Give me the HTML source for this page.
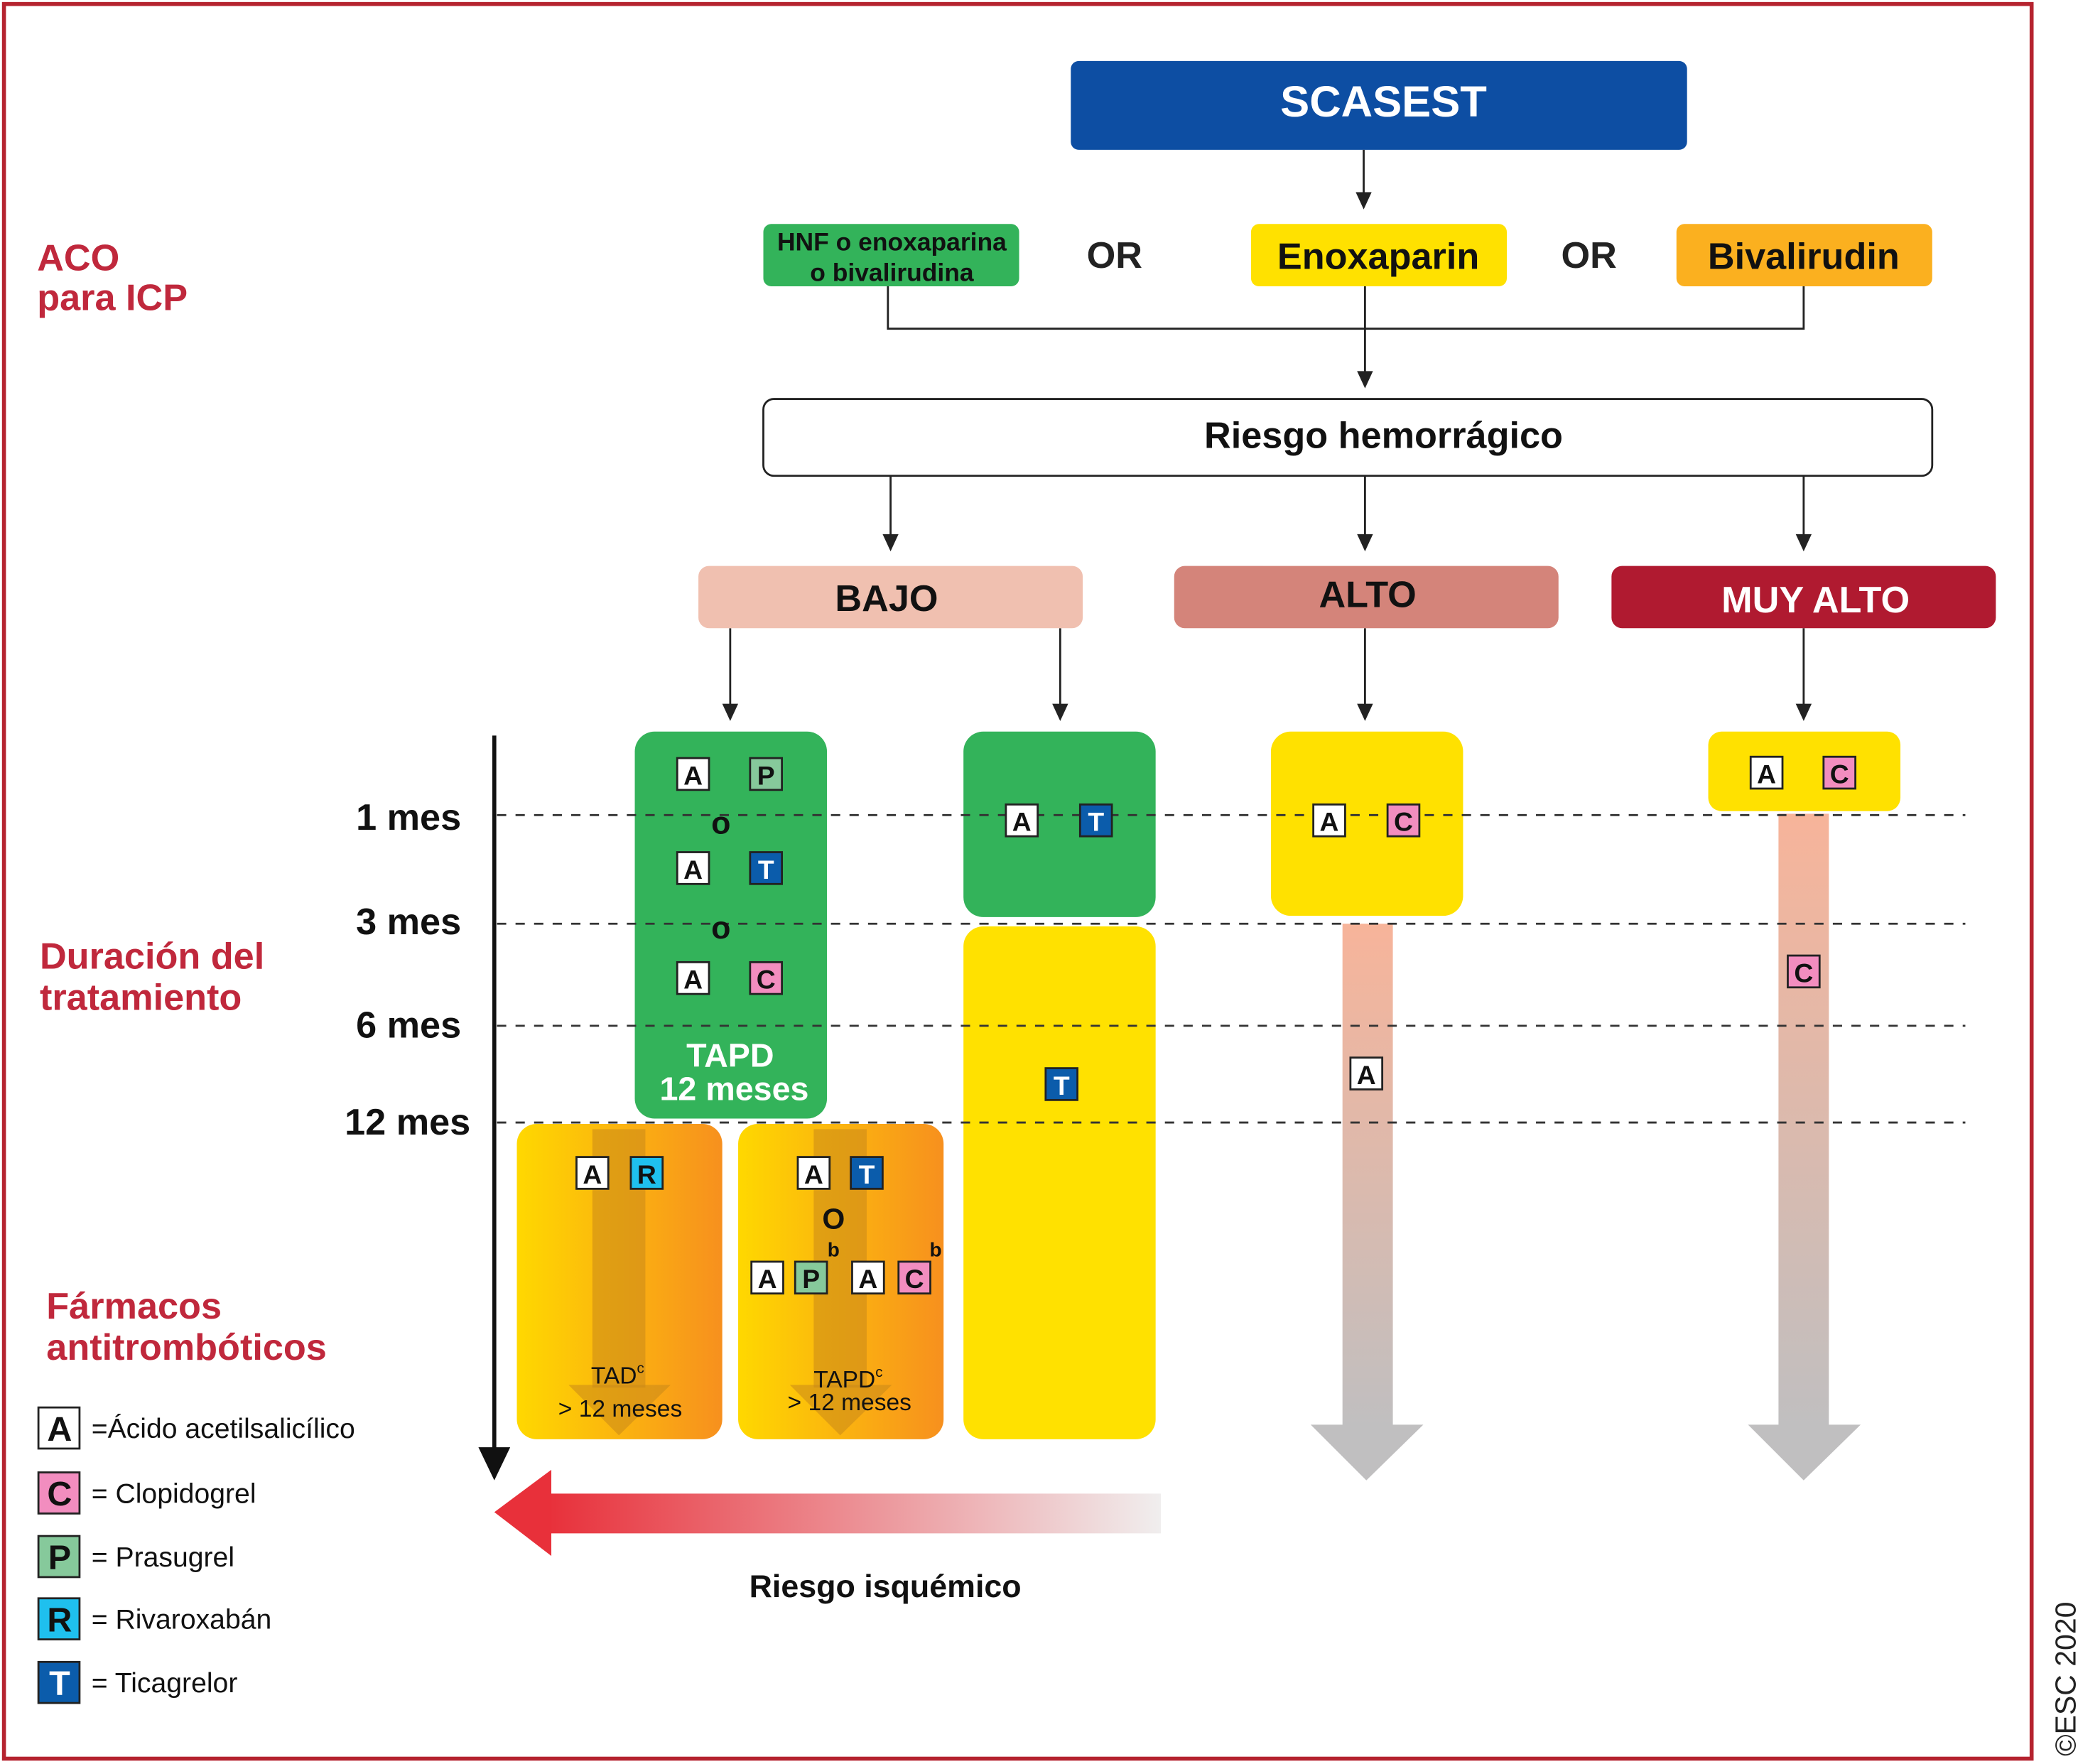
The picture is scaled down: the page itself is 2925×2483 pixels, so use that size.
<!DOCTYPE html>
<html><head><meta charset="utf-8"><style>html,body{margin:0;padding:0;background:#fff}svg{display:block}text{font-family:"Liberation Sans",sans-serif}</style></head><body>
<svg width="2925" height="2483" viewBox="0 0 1568 1331" xmlns="http://www.w3.org/2000/svg">
<defs>
<linearGradient id="og" x1="0" x2="1" y1="0" y2="0"><stop offset="0" stop-color="#ffd800"/><stop offset="1" stop-color="#f7901e"/></linearGradient>
<linearGradient id="gv" x1="0" x2="0" y1="0" y2="1"><stop offset="0" stop-color="#f7b49a"/><stop offset="1" stop-color="#c0bfc0"/></linearGradient>
<linearGradient id="rh" x1="0" x2="1" y1="0" y2="0"><stop offset="0" stop-color="#e8303a"/><stop offset="1" stop-color="#f0eeee"/></linearGradient>
</defs>
<rect x="3" y="3" width="1530" height="1324" fill="none" stroke="#b5232f" stroke-width="3"/>
<text transform="translate(1566,1325) rotate(-90)" font-size="22" fill="#222">©ESC 2020</text>

<rect x="808" y="46" width="465" height="67" rx="6" fill="#0d4ea3"/>
<text x="1044" y="88" font-size="33" font-weight="bold" fill="#fff" text-anchor="middle">SCASEST</text>
<g stroke="#222" stroke-width="1.5" fill="none">
<line x1="1029" y1="113" x2="1029" y2="150"/>
<polyline points="670,216 670,248 1361,248 1361,216"/>
<line x1="1030" y1="216" x2="1030" y2="285"/>
<line x1="672" y1="359" x2="672" y2="408"/>
<line x1="1030" y1="359" x2="1030" y2="408"/>
<line x1="1361" y1="359" x2="1361" y2="408"/>
<line x1="551" y1="474" x2="551" y2="536"/>
<line x1="800" y1="474" x2="800" y2="536"/>
<line x1="1030" y1="474" x2="1030" y2="536"/>
<line x1="1361" y1="474" x2="1361" y2="536"/>
</g>
<g fill="#222">
<polygon points="1023,145 1035,145 1029,158"/>
<polygon points="1024,280 1036,280 1030,293"/>
<polygon points="666,403 678,403 672,416"/>
<polygon points="1024,403 1036,403 1030,416"/>
<polygon points="1355,403 1367,403 1361,416"/>
<polygon points="545,531 557,531 551,544"/>
<polygon points="794,531 806,531 800,544"/>
<polygon points="1024,531 1036,531 1030,544"/>
<polygon points="1355,531 1367,531 1361,544"/>
</g>
<rect x="576" y="169" width="193" height="47" rx="6" fill="#33b35a"/>
<text x="673" y="189" font-size="19" font-weight="bold" text-anchor="middle" fill="#111">HNF o enoxaparina</text>
<text x="673" y="212" font-size="19" font-weight="bold" text-anchor="middle" fill="#111">o bivalirudina</text>
<text x="841" y="202" font-size="28" font-weight="bold" text-anchor="middle" fill="#222">OR</text>
<text x="1199" y="202" font-size="28" font-weight="bold" text-anchor="middle" fill="#222">OR</text>
<rect x="944" y="169" width="193" height="47" rx="6" fill="#ffe100"/>
<text x="1040" y="203" font-size="28" font-weight="bold" text-anchor="middle" fill="#111">Enoxaparin</text>
<rect x="1265" y="169" width="193" height="47" rx="6" fill="#fbb01f"/>
<text x="1361" y="203" font-size="28" font-weight="bold" text-anchor="middle" fill="#111">Bivalirudin</text>

<rect x="576" y="301" width="882" height="58" rx="8" fill="#fff" stroke="#222" stroke-width="1.5"/>
<text x="1044" y="338" font-size="28" font-weight="bold" text-anchor="middle" fill="#111">Riesgo hemorrágico</text>

<rect x="527" y="427" width="290" height="47" rx="8" fill="#f0c0b0"/>
<text x="669" y="461" font-size="28" font-weight="bold" text-anchor="middle" fill="#111">BAJO</text>
<rect x="886" y="427" width="290" height="47" rx="8" fill="#d4847a"/>
<text x="1032" y="458" font-size="28" font-weight="bold" text-anchor="middle" fill="#111">ALTO</text>
<rect x="1216" y="427" width="290" height="47" rx="8" fill="#b01a30"/>
<text x="1370" y="462" font-size="28" font-weight="bold" text-anchor="middle" fill="#fff">MUY ALTO</text>

<text x="28" y="204" font-size="28" font-weight="bold" fill="#c0283c">ACO</text>
<text x="28" y="234" font-size="28" font-weight="bold" fill="#c0283c">para ICP</text>
<text x="30" y="731" font-size="28" font-weight="bold" fill="#c0283c">Duración del</text>
<text x="30" y="762" font-size="28" font-weight="bold" fill="#c0283c">tratamiento</text>
<text x="35" y="995" font-size="28" font-weight="bold" fill="#c0283c">Fármacos</text>
<text x="35" y="1026" font-size="28" font-weight="bold" fill="#c0283c">antitrombóticos</text>

<rect x="479" y="552" width="145" height="292" rx="15" fill="#33b35a"/>
<rect x="727" y="552" width="145" height="140" rx="15" fill="#33b35a"/>
<rect x="727" y="699" width="145" height="387" rx="15" fill="#ffe100"/>
<rect x="959" y="552" width="145" height="139" rx="15" fill="#ffe100"/>
<rect x="1289" y="552" width="145" height="60" rx="10" fill="#ffe100"/>
<rect x="1013" y="697" width="38" height="380" fill="url(#gv)"/>
<polygon points="989,1075 1074,1075 1031,1117" fill="#c0bfc0"/>
<rect x="1342" y="614" width="38" height="463" fill="url(#gv)"/>
<polygon points="1319,1075 1404,1075 1361,1117" fill="#c0bfc0"/>

<rect x="390" y="848" width="155" height="238" rx="15" fill="url(#og)"/>
<rect x="447" y="852" width="40" height="195" fill="#c8881a" opacity="0.55"/>
<polygon points="429,1045 506,1045 467,1083" fill="#c8881a" opacity="0.55"/>
<rect x="557" y="848" width="155" height="238" rx="15" fill="url(#og)"/>
<rect x="614" y="852" width="40" height="195" fill="#c8881a" opacity="0.55"/>
<polygon points="596,1045 673,1045 634,1083" fill="#c8881a" opacity="0.55"/>

<g stroke="#333" stroke-width="1.5" stroke-dasharray="7,7">
<line x1="375" y1="615" x2="1483" y2="615"/>
<line x1="375" y1="697" x2="1483" y2="697"/>
<line x1="375" y1="774" x2="1483" y2="774"/>
<line x1="375" y1="847" x2="1483" y2="847"/>
</g>
<text x="348" y="626" font-size="28" font-weight="bold" text-anchor="end" fill="#111">1 mes</text>
<text x="348" y="705" font-size="28" font-weight="bold" text-anchor="end" fill="#111">3 mes</text>
<text x="348" y="783" font-size="28" font-weight="bold" text-anchor="end" fill="#111">6 mes</text>
<text x="355" y="856" font-size="28" font-weight="bold" text-anchor="end" fill="#111">12 mes</text>
<line x1="373" y1="555" x2="373" y2="1100" stroke="#111" stroke-width="3"/>
<polygon points="361,1092 385,1092 373,1117" fill="#111"/>

<g font-weight="bold" font-size="20" text-anchor="middle" stroke-width="1.5">
<g stroke="#222">
<rect x="511" y="572" width="24" height="24" fill="#fff"/><rect x="566" y="572" width="24" height="24" fill="#86c99b"/>
<rect x="511" y="643" width="24" height="24" fill="#fff"/><rect x="566" y="643" width="24" height="24" fill="#0b5cab"/>
<rect x="511" y="726" width="24" height="24" fill="#fff"/><rect x="566" y="726" width="24" height="24" fill="#f28dbf"/>
<rect x="759" y="607" width="24" height="24" fill="#fff"/><rect x="815" y="607" width="24" height="24" fill="#0b5cab"/>
<rect x="789" y="806" width="24" height="24" fill="#0b5cab"/>
<rect x="991" y="607" width="24" height="24" fill="#fff"/><rect x="1047" y="607" width="24" height="24" fill="#f28dbf"/>
<rect x="1019" y="798" width="24" height="24" fill="#fff"/>
<rect x="1321" y="571" width="24" height="24" fill="#fff"/><rect x="1376" y="571" width="24" height="24" fill="#f28dbf"/>
<rect x="1349" y="721" width="24" height="24" fill="#f28dbf"/>
<rect x="435" y="873" width="24" height="24" fill="#fff"/><rect x="476" y="873" width="24" height="24" fill="#1fc0ee"/>
<rect x="602" y="873" width="24" height="24" fill="#fff"/><rect x="642" y="873" width="24" height="24" fill="#0b5cab"/>
<rect x="567" y="952" width="24" height="24" fill="#fff"/><rect x="600" y="952" width="24" height="24" fill="#86c99b"/>
<rect x="643" y="952" width="24" height="24" fill="#fff"/><rect x="678" y="952" width="24" height="24" fill="#f28dbf"/>
</g>
<g stroke="none" fill="#111">
<text x="523" y="592">A</text><text x="578" y="592">P</text>
<text x="523" y="663">A</text><text x="578" y="663" fill="#fff">T</text>
<text x="523" y="746">A</text><text x="578" y="746">C</text>
<text x="771" y="627">A</text><text x="827" y="627" fill="#fff">T</text>
<text x="801" y="826" fill="#fff">T</text>
<text x="1003" y="627">A</text><text x="1059" y="627">C</text>
<text x="1031" y="818">A</text>
<text x="1333" y="591">A</text><text x="1388" y="591">C</text>
<text x="1361" y="741">C</text>
<text x="447" y="893">A</text><text x="488" y="893">R</text>
<text x="614" y="893">A</text><text x="654" y="893" fill="#fff">T</text>
<text x="579" y="972">A</text><text x="612" y="972">P</text>
<text x="655" y="972">A</text><text x="690" y="972">C</text>
<text x="544" y="629" font-size="24">o</text><text x="544" y="708" font-size="24">o</text>
<text x="629" y="927" font-size="22">O</text>
<text x="629" y="948" font-size="15">b</text><text x="706" y="948" font-size="15">b</text>
</g>
</g>
<text x="551" y="805" font-size="25" font-weight="bold" text-anchor="middle" fill="#fff">TAPD</text>
<text x="554" y="830" font-size="25" font-weight="bold" text-anchor="middle" fill="#fff">12 meses</text>
<text x="466" y="1044" font-size="18" text-anchor="middle" fill="#111">TAD<tspan font-size="11" dy="-8">c</tspan></text>
<text x="468" y="1069" font-size="18" text-anchor="middle" fill="#111">&gt; 12 meses</text>
<text x="640" y="1047" font-size="18" text-anchor="middle" fill="#111">TAPD<tspan font-size="11" dy="-8">c</tspan></text>
<text x="641" y="1064" font-size="18" text-anchor="middle" fill="#111">&gt; 12 meses</text>

<rect x="413" y="1127" width="463" height="30" fill="url(#rh)"/>
<polygon points="373,1141 416,1109 416,1174" fill="#e8303a"/>
<text x="668" y="1205" font-size="24" font-weight="bold" text-anchor="middle" fill="#111">Riesgo isquémico</text>

<g stroke="#222" stroke-width="1.5">
<rect x="29" y="1062" width="31" height="31" fill="#fff"/>
<rect x="29" y="1111" width="31" height="31" fill="#f28dbf"/>
<rect x="29" y="1159" width="31" height="31" fill="#86c99b"/>
<rect x="29" y="1206" width="31" height="31" fill="#1fc0ee"/>
<rect x="29" y="1254" width="31" height="31" fill="#0b5cab"/>
</g>
<g font-size="26" font-weight="bold" text-anchor="middle" fill="#111">
<text x="45" y="1087">A</text><text x="45" y="1136">C</text><text x="45" y="1184">P</text><text x="45" y="1231">R</text><text x="45" y="1279" fill="#fff">T</text>
</g>
<g font-size="21" fill="#111">
<text x="69" y="1085">=Ácido acetilsalicílico</text>
<text x="69" y="1134">= Clopidogrel</text>
<text x="69" y="1182">= Prasugrel</text>
<text x="69" y="1229">= Rivaroxabán</text>
<text x="69" y="1277">= Ticagrelor</text>
</g>
</svg>
</body></html>
